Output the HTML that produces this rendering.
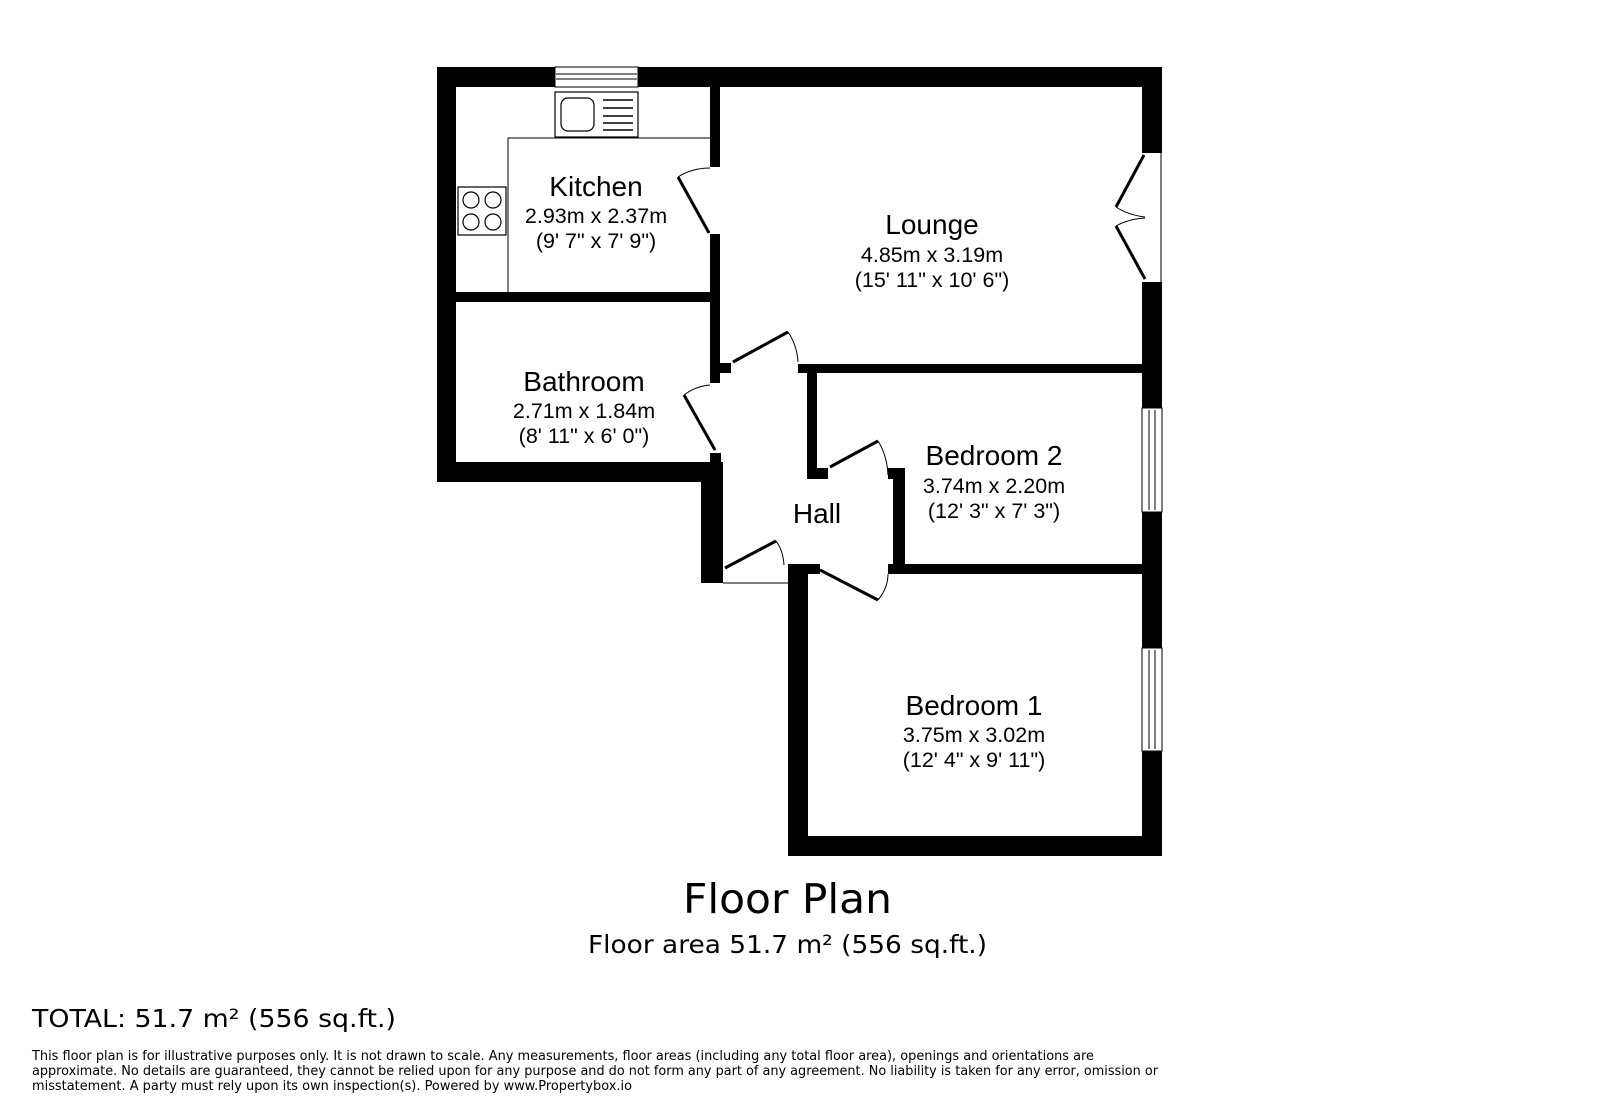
<!DOCTYPE html>
<html><head><meta charset="utf-8"><style>
html,body{margin:0;padding:0;background:#fff;}
svg{display:block;}
.r{font-family:"Liberation Sans",Arial,sans-serif;fill:#000;text-anchor:middle;}
.v{font-family:"DejaVu Sans",Verdana,sans-serif;fill:#000;}
</style></head><body>
<svg width="1600" height="1119" viewBox="0 0 1600 1119" xmlns="http://www.w3.org/2000/svg">
<g fill="#000">
<rect x="437" y="67" width="19" height="415"/>
<rect x="437" y="67" width="725" height="20"/>
<rect x="1142" y="67" width="20" height="86"/>
<rect x="1142" y="282" width="20" height="126"/>
<rect x="1142" y="512" width="20" height="136"/>
<rect x="1142" y="751" width="20" height="105"/>
<rect x="788" y="836" width="374" height="20"/>
<rect x="788" y="564" width="20" height="292"/>
<rect x="788" y="564" width="32" height="10"/>
<rect x="888" y="564" width="254" height="10"/>
<rect x="893" y="468" width="12" height="106"/>
<rect x="888" y="468" width="17" height="11"/>
<rect x="807" y="364" width="10" height="115"/>
<rect x="807" y="468" width="21" height="11"/>
<rect x="798" y="364" width="344" height="9"/>
<rect x="710" y="87" width="10" height="80"/>
<rect x="710" y="234" width="10" height="149"/>
<rect x="710" y="363" width="21" height="10"/>
<rect x="437" y="292" width="283" height="10"/>
<rect x="437" y="462" width="284" height="20"/>
<rect x="710" y="453" width="11" height="30"/>
<rect x="701" y="462" width="22" height="121"/>
</g>
<rect x="555" y="67" width="83" height="20" fill="#fff" stroke="#000" stroke-width="1"/>
<line x1="556" y1="74" x2="637" y2="74" stroke="#000" stroke-width="1"/>
<line x1="556" y1="79" x2="637" y2="79" stroke="#000" stroke-width="1"/>
<rect x="555" y="92" width="83" height="45" fill="#fff" stroke="#000" stroke-width="1.2"/>
<rect x="561" y="98" width="33" height="33" rx="7" fill="none" stroke="#000" stroke-width="1.2"/>
<g stroke="#000" stroke-width="1.5">
<line x1="603" y1="100" x2="633" y2="100"/><line x1="603" y1="108" x2="633" y2="108"/>
<line x1="603" y1="116" x2="633" y2="116"/><line x1="603" y1="123" x2="633" y2="123"/>
<line x1="603" y1="130" x2="633" y2="130"/>
</g>
<polyline points="710,138 508,138 508,292" fill="none" stroke="#000" stroke-width="1"/>
<rect x="458" y="187" width="48" height="48" fill="#fff" stroke="#000" stroke-width="1.2"/>
<g fill="none" stroke="#000" stroke-width="1.2">
<circle cx="471" cy="200" r="8"/><circle cx="493" cy="200" r="8"/>
<circle cx="471" cy="222" r="8"/><circle cx="493" cy="222" r="8"/>
</g>
<g fill="#fff" stroke="#000" stroke-width="1">
<rect x="1142" y="408" width="20" height="104"/>
<rect x="1142" y="648" width="20" height="103"/>
</g>
<g stroke="#000" stroke-width="1">
<line x1="1149" y1="410" x2="1149" y2="510"/><line x1="1155" y1="410" x2="1155" y2="510"/>
<line x1="1149" y1="650" x2="1149" y2="749"/><line x1="1155" y1="650" x2="1155" y2="749"/>
<line x1="1161" y1="153" x2="1161" y2="282"/>
<line x1="723" y1="583" x2="788" y2="583"/>
</g>
<g fill="none" stroke="#000" stroke-width="3">
<line x1="709" y1="233" x2="678" y2="177"/>
<line x1="715" y1="450" x2="684" y2="395"/>
<line x1="733" y1="362" x2="788" y2="332"/>
<line x1="830" y1="467" x2="878" y2="441"/>
<line x1="820" y1="570" x2="878" y2="600"/>
<line x1="725" y1="568" x2="776" y2="541"/>
<line x1="1144" y1="155" x2="1116" y2="207"/>
<line x1="1116" y1="226" x2="1145" y2="279"/>
</g>
<g fill="none" stroke="#000" stroke-width="1">
<path d="M678,177 Q692,168 710,168"/>
<path d="M684,395 Q696,386 710,385"/>
<path d="M788,332 Q797,345 798,362"/>
<path d="M878,441 Q887,455 888,475"/>
<path d="M878,600 Q888,588 888,574"/>
<path d="M776,541 Q783,550 784,565"/>
<path d="M1116,207 Q1128,215 1145,217"/>
<path d="M1116,226 Q1128,219 1145,218"/>
</g>
<g class="r">
<text x="596" y="196" font-size="28">Kitchen</text>
<text x="596" y="223" font-size="21.5">2.93m x 2.37m</text>
<text x="596" y="248" font-size="21.5">(9' 7" x 7' 9")</text>
<text x="932" y="234" font-size="28">Lounge</text>
<text x="932" y="262" font-size="21.5">4.85m x 3.19m</text>
<text x="932" y="287" font-size="21.5">(15' 11" x 10' 6")</text>
<text x="584" y="391" font-size="28">Bathroom</text>
<text x="584" y="418" font-size="21.5">2.71m x 1.84m</text>
<text x="584" y="443" font-size="21.5">(8' 11" x 6' 0")</text>
<text x="994" y="465" font-size="28">Bedroom 2</text>
<text x="994" y="493" font-size="21.5">3.74m x 2.20m</text>
<text x="994" y="518" font-size="21.5">(12' 3" x 7' 3")</text>
<text x="817" y="523" font-size="28">Hall</text>
<text x="974" y="715" font-size="28">Bedroom 1</text>
<text x="974" y="742" font-size="21.5">3.75m x 3.02m</text>
<text x="974" y="767" font-size="21.5">(12' 4" x 9' 11")</text>
</g>
<text class="v" x="683" y="913" font-size="41" textLength="209" lengthAdjust="spacingAndGlyphs">Floor Plan</text>
<text class="v" x="588" y="953" font-size="25" textLength="399" lengthAdjust="spacingAndGlyphs">Floor area 51.7 m² (556 sq.ft.)</text>
<text class="v" x="32" y="1027" font-size="25" textLength="364" lengthAdjust="spacingAndGlyphs">TOTAL: 51.7 m² (556 sq.ft.)</text>
<g class="v" font-size="13">
<text x="32" y="1060" textLength="1062" lengthAdjust="spacingAndGlyphs">This floor plan is for illustrative purposes only. It is not drawn to scale. Any measurements, floor areas (including any total floor area), openings and orientations are</text>
<text x="32" y="1075" textLength="1126" lengthAdjust="spacingAndGlyphs">approximate. No details are guaranteed, they cannot be relied upon for any purpose and do not form any part of any agreement. No liability is taken for any error, omission or</text>
<text x="32" y="1090" textLength="600" lengthAdjust="spacingAndGlyphs">misstatement. A party must rely upon its own inspection(s). Powered by www.Propertybox.io</text>
</g>
</svg>
</body></html>
